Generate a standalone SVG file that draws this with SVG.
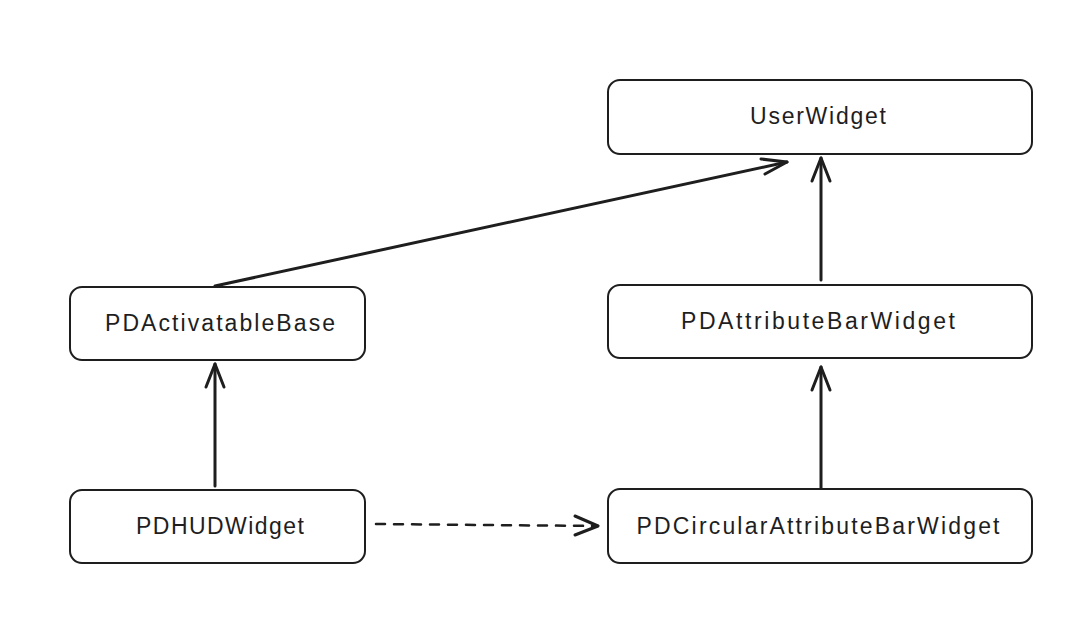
<svg xmlns="http://www.w3.org/2000/svg" width="1085" height="634" viewBox="0 0 1085 634">
<style>
.box{fill:#fff;stroke:#1e1e1e;stroke-width:2}
.lbl{font-family:"Liberation Sans",Arial,sans-serif;font-size:23px;fill:#1e1e1e;text-anchor:middle;dominant-baseline:central}
.ln{fill:none;stroke:#1e1e1e;stroke-width:3;stroke-linecap:round;stroke-linejoin:round}
.dash{stroke-dasharray:9 9;stroke-width:2.5}
</style>
<rect width="1085" height="634" fill="#fff"/>
<g id="connectors">
<path class="ln" d="M215 286 L787 162"/>
<path class="ln" d="M761 159 L787 162 L765 174"/>
<path class="ln" d="M821 280 L821 158"/>
<path class="ln" d="M812 181 L821 158 L830 181"/>
<path class="ln" d="M821 488 L821 367"/>
<path class="ln" d="M812 390 L821 367 L830 390"/>
<path class="ln" d="M215 486 L215 364"/>
<path class="ln" d="M206 387 L215 364 L224 387"/>
<path class="ln dash" d="M376 524 L598 526"/>
<path class="ln" d="M575 516 L598 526 L575 535"/>
</g>
<g id="UserWidget"><rect class="box" x="608" y="80" width="424" height="74" rx="12"/><text class="lbl" x="818" y="116" textLength="136">UserWidget</text></g>
<g id="PDActivatableBase"><rect class="box" x="70" y="287" width="295" height="73" rx="12"/><text class="lbl" x="220" y="323" textLength="230">PDActivatableBase</text></g>
<g id="PDAttributeBarWidget"><rect class="box" x="608" y="285" width="424" height="73" rx="12"/><text class="lbl" x="818" y="321" textLength="274">PDAttributeBarWidget</text></g>
<g id="PDHUDWidget"><rect class="box" x="70" y="490" width="295" height="73" rx="12"/><text class="lbl" x="220" y="526" textLength="168">PDHUDWidget</text></g>
<g id="PDCircularAttributeBarWidget"><rect class="box" x="608" y="489" width="424" height="74" rx="12"/><text class="lbl" x="818" y="526" textLength="363">PDCircularAttributeBarWidget</text></g>
</svg>
